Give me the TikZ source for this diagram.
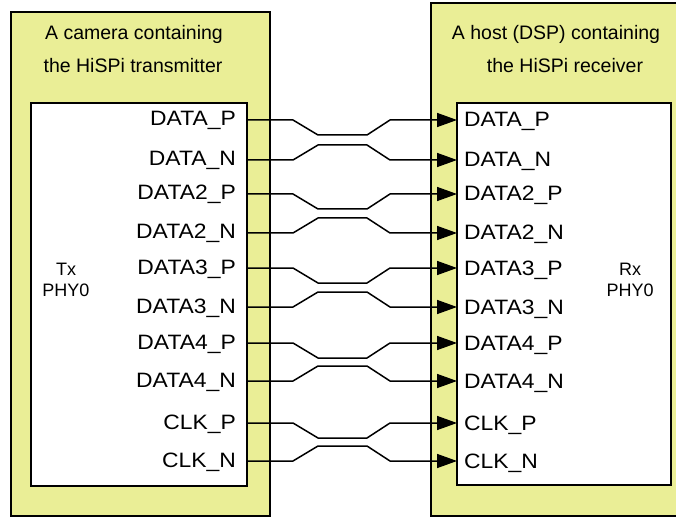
\documentclass[tikz,border=0pt]{standalone}
\usepackage{fontspec}
\setmainfont{Liberation Sans}
\newfontfamily\lblfont[FakeStretch=1.1]{Liberation Sans}
\usetikzlibrary{arrows.meta}
\definecolor{boxyellow}{RGB}{234,238,150}
\tikzset{
  outerbox/.style={fill=boxyellow, draw=black, line width=2.6pt},
  innerbox/.style={fill=white, draw=black, line width=2pt},
  lbl/.style={inner sep=0pt, font=\lblfont\fontsize{20.8}{24}\selectfont},
  phy/.style={inner sep=0pt, font=\fontsize{18}{20}\selectfont},
  title/.style={inner sep=0pt, font=\fontsize{19.5}{24}\selectfont},
  sig/.style={line width=1.5pt, -{Triangle[length=20pt,width=14pt]}}
}
\begin{document}
\begin{tikzpicture}[x=1pt,y=-1pt]
\useasboundingbox (0,0) rectangle (676,518);
\clip (0,0) rectangle (676,518);
% outer boxes
\draw[outerbox] (11,12) rectangle (270,516);
\draw[outerbox] (431,3) rectangle (700,516);
% inner boxes
\draw[innerbox] (31,103) rectangle (247,486);
\draw[innerbox] (457,103) rectangle (671,485);
% titles
\node[title, anchor=base] (ttx1) at (134,40) {A camera containing};
\node[title, anchor=base] (ttx2) at (133,73) {the HiSPi transmitter};
\node[title, anchor=base] (trx1) at (556,40) {A host (DSP) containing};
\node[title, anchor=base] (trx2) at (565,73) {the HiSPi receiver};
% PHY labels
\node[phy, anchor=base] (txphy1) at (66,276) {Tx};
\node[phy, anchor=base] (txphy2) at (66,296) {PHY0};
\node[phy, anchor=base] (rxphy1) at (630,276) {Rx};
\node[phy, anchor=base] (rxphy2) at (630,296) {PHY0};
% signals
\foreach \p/\n/\lp/\ln [count=\i] in {120/160/DATA\_P/DATA\_N, 194/233/DATA2\_P/DATA2\_N, 268/307/DATA3\_P/DATA3\_N, 343/381/DATA4\_P/DATA4\_N, 423/461/CLK\_P/CLK\_N}{
  \node[lbl, anchor=base east] (txlp\i) at (236,\p+6) {\lp};
  \node[lbl, anchor=base east] (txln\i) at (236,\n+6) {\ln};
  \node[lbl, anchor=base west] (rxlp\i) at (464,\p+7) {\lp};
  \node[lbl, anchor=base west] (rxln\i) at (464,\n+7) {\ln};
  \coordinate (txp\i) at (247,\p);
  \coordinate (txn\i) at (247,\n);
  \coordinate (rxp\i) at (457,\p);
  \coordinate (rxn\i) at (457,\n);
  \draw[sig] (txp\i) -- ++(46,0) -- ++(25,15) -- ++(49,0) -- ++(23,-15) -- (rxp\i);
  \draw[sig] (txn\i) -- ++(46,0) -- ++(25,-15) -- ++(49,0) -- ++(23,15) -- (rxn\i);
}
\end{tikzpicture}
\end{document}
